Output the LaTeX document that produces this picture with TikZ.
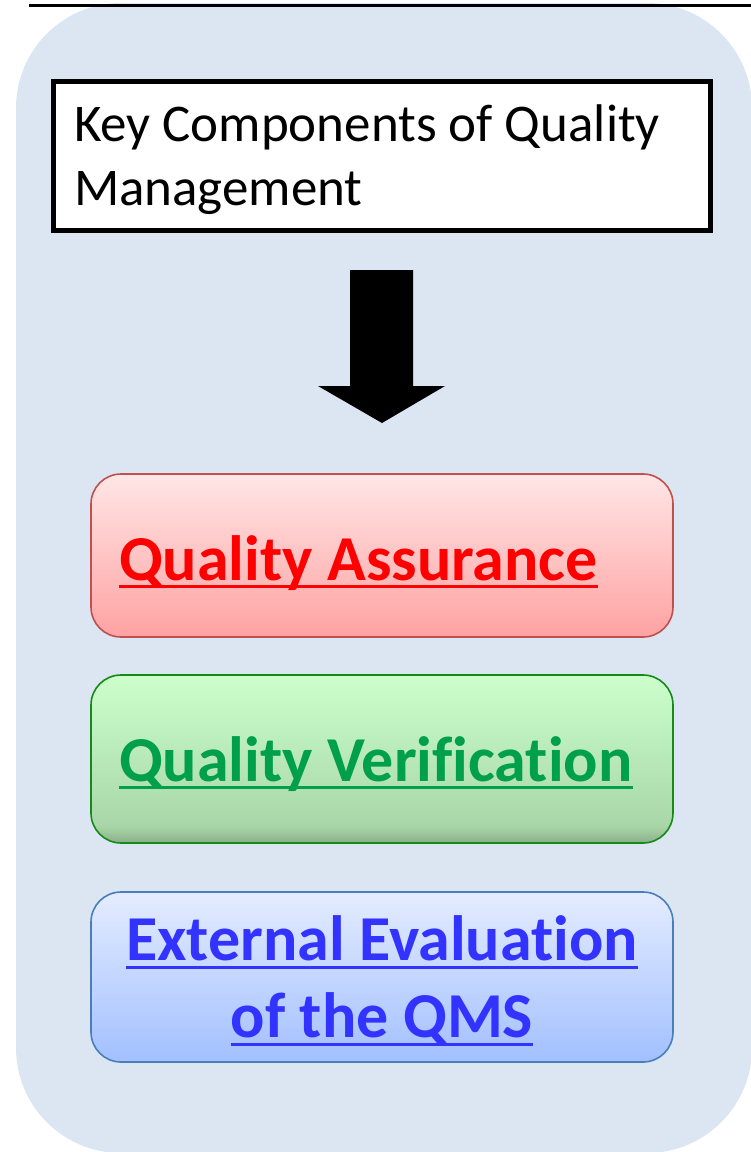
\documentclass[tikz,border=0pt]{standalone}
\usepackage{fontspec}
\setmainfont[Ligatures={NoCommon}]{Carlito}
\definecolor{bgblue}{HTML}{DCE6F2}
\definecolor{qared}{HTML}{FF0000}
\definecolor{qaborder}{HTML}{C0504D}
\definecolor{qatop}{HTML}{FFE6E6}
\definecolor{qabot}{HTML}{FFA2A2}
\definecolor{qvtext}{HTML}{00A04A}
\definecolor{qvborder}{HTML}{168A16}
\definecolor{qvtop}{HTML}{CCFFCC}
\definecolor{qvbot}{HTML}{A8D6A8}
\definecolor{qvdark}{HTML}{8AAE8A}
\definecolor{eetext}{HTML}{3333FF}
\definecolor{eeborder}{HTML}{4A7EBB}
\definecolor{eetop}{HTML}{E4ECFF}
\definecolor{eebot}{HTML}{A2C0FF}
\pgfdeclareverticalshading{greensh}{100bp}{color(0bp)=(qvdark); color(25bp)=(qvdark); color(30bp)=(qvbot); color(75bp)=(qvtop); color(100bp)=(qvtop)}
\tikzset{
  compbox/.style={rectangle, rounded corners=30pt, line width=1.6pt, minimum width=582pt, inner sep=0pt, outer sep=0pt},
  complabel/.style={inner sep=0pt, outer sep=0pt, font=\fontsize{64}{76}\selectfont\bfseries},
  titlelabel/.style={inner sep=0pt, outer sep=0pt, anchor=base west, font=\fontsize{53}{63}\selectfont},
  uline/.style={line width=3pt}
}
\begin{document}
\begin{tikzpicture}[x=1pt,y=-1pt]
\useasboundingbox (0,0) rectangle (751,1152);
\clip (0,0) rectangle (751,1152);
% background panel
\fill[bgblue, rounded corners=105pt] (16,3) rectangle (752,1153);
% cut-off heading underline
\draw[line width=3pt] (29,5) -- (751,5);
% title box
\node[draw=black, fill=white, line width=5pt, minimum width=657pt, minimum height=149pt, inner sep=0pt, outer sep=0pt] (title) at (381.5,155.5) {};
\node[titlelabel] (t1) at (74,141) {Key Components of Quality};
\node[titlelabel] (t2) at (74,205) {Management};
% block arrow
\fill[black] (350,270) -- (413,270) -- (413,386) -- (445,386) -- (382,423) -- (318,386) -- (350,386) -- cycle;
% component boxes
\node[compbox, draw=qaborder, top color=qatop, bottom color=qabot, minimum height=163pt] (qabox) at (382,555.5) {};
\node[compbox, draw=qvborder, shade, shading=greensh, minimum height=168pt] (qvbox) at (382,759) {};
\node[compbox, draw=eeborder, top color=eetop, bottom color=eebot, minimum height=170pt] (eebox) at (382,977) {};
% labels
\node[complabel, text=qared, anchor=base west] (qa) at (119,580) {Quality Assurance};
\draw[uline, qared] ([yshift=-6pt]qa.base west) -- ([yshift=-6pt]qa.base east);
\node[complabel, text=qvtext, anchor=base west] (qv) at (119,781) {Quality Verification};
\draw[uline, qvtext] ([yshift=-6pt]qv.base west) -- ([yshift=-6pt]qv.base east);
\node[complabel, text=eetext, anchor=base] (ee1) at (382,960) {External Evaluation};
\draw[uline, eetext] ([yshift=-7pt]ee1.base west) -- ([yshift=-7pt]ee1.base east);
\node[complabel, text=eetext, anchor=base] (ee2) at (382,1037) {of the QMS};
\draw[uline, eetext] ([yshift=-7pt]ee2.base west) -- ([yshift=-7pt]ee2.base east);
\end{tikzpicture}
\end{document}
